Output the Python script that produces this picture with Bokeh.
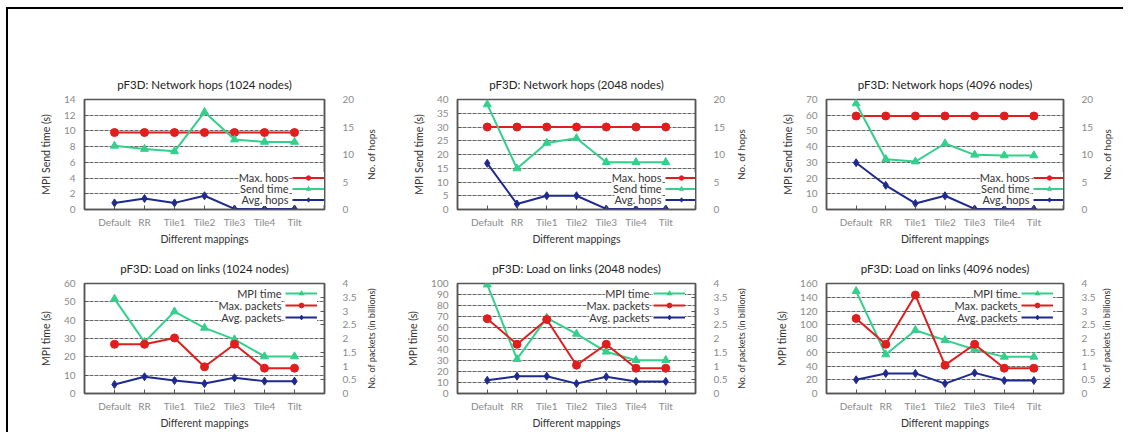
import math
from bokeh.plotting import figure
from bokeh.models import (Range1d, LinearAxis, SingleIntervalTicker, FixedTicker,
                          CustomJSTickFormatter, Legend, LegendItem, Label)
from bokeh.layouts import gridplot
from bokeh.embed import file_html
from bokeh.resources import INLINE
from bokeh.core.properties import value

# ---------------- data ----------------
mappings = ["Default", "RR", "Tile1", "Tile2", "Tile3", "Tile4", "Tilt"]

# Network hops
hops_max_1024 = [14, 14, 14, 14, 14, 14, 14]
send_time_1024 = [8.1, 7.7, 7.4, 12.4, 8.9, 8.6, 8.6]
hops_avg_1024 = [1.2, 2.0, 1.2, 2.5, 0.1, 0.1, 0.1]

hops_max_2048 = [15, 15, 15, 15, 15, 15, 15]
send_time_2048 = [38.2, 14.9, 24.2, 25.9, 17.2, 17.2, 17.2]
hops_avg_2048 = [8.4, 1.0, 2.5, 2.5, 0.1, 0.1, 0.1]

hops_max_4096 = [17, 17, 17, 17, 17, 17, 17]
send_time_4096 = [67.5, 32.0, 30.5, 42.0, 34.8, 34.4, 34.4]
hops_avg_4096 = [8.5, 4.4, 1.1, 2.5, 0.1, 0.1, 0.1]

# Load on links
mpi_time_1024 = [51.6, 28.0, 44.7, 35.8, 29.5, 20.2, 20.2]
pk_max_1024 = [1.79, 1.79, 2.02, 0.97, 1.79, 0.92, 0.92]
pk_avg_1024 = [0.33, 0.61, 0.47, 0.36, 0.57, 0.45, 0.45]

mpi_time_2048 = [99.0, 31.2, 68.8, 54.2, 37.9, 30.3, 30.3]
pk_max_2048 = [2.72, 1.79, 2.69, 1.03, 1.79, 0.92, 0.92]
pk_avg_2048 = [0.48, 0.63, 0.63, 0.36, 0.61, 0.44, 0.44]

mpi_time_4096 = [148.8, 56.7, 92.1, 77.6, 64.0, 53.3, 53.3]
pk_max_4096 = [2.73, 1.79, 3.58, 1.03, 1.79, 0.92, 0.92]
pk_avg_4096 = [0.50, 0.73, 0.73, 0.36, 0.75, 0.47, 0.47]

# ---------------- style ----------------
RED = "#e11d1d"
GREEN = "#33d08c"
BLUE = "#1f2a90"
FONT = "Lato"
AXC = "#555555"


def style_axis(ax, lab_standoff, axl_standoff):
    ax.axis_line_color = AXC
    ax.axis_line_width = 1.5
    ax.major_tick_in = 4
    ax.major_tick_out = 0
    ax.major_tick_line_color = AXC
    ax.minor_tick_line_color = None
    ax.major_label_text_font = FONT
    ax.major_label_text_font_size = "10px"
    ax.major_label_text_color = "#8a8a8a"
    ax.major_label_standoff = lab_standoff
    ax.axis_label_text_font = FONT
    ax.axis_label_text_font_size = "10.5px"
    ax.axis_label_text_font_style = "normal"
    ax.axis_label_text_color = "#333333"
    ax.axis_label_standoff = axl_standoff


def make_fig(title, left_max, left_step, left_label, right_max, right_step, right_label,
             series, legend_top, width, height, bl, br, bt, bb, legend_gap, row_h,
             rlab_size, rlab_off):
    frame_w = width - bl - br
    frame_h = height - bt - bb
    p = figure(width=width, height=height, x_range=Range1d(-1, 7), y_range=Range1d(0, left_max),
               output_backend="svg", toolbar_location=None, tools="",
               min_border_left=bl, min_border_right=br, min_border_top=bt, min_border_bottom=bb)
    p.extra_y_ranges = {"right": Range1d(0, right_max)}
    p.background_fill_color = "white"
    p.border_fill_color = "white"
    p.outline_line_color = AXC
    p.outline_line_width = 1.5

    p.title.text = title
    p.title.align = "center"
    p.title.text_font = FONT
    p.title.text_font_size = "11.5px"
    p.title.text_font_style = "normal"
    p.title.text_color = "#222222"
    p.title.standoff = 17

    lticker = SingleIntervalTicker(interval=left_step)
    yax = p.left[0]
    yax.ticker = lticker
    yax.axis_label = left_label
    style_axis(yax, 5, 9)
    p.ygrid.ticker = lticker
    p.ygrid.grid_line_color = "#666666"
    p.ygrid.grid_line_dash = "4 1"
    p.ygrid.grid_line_width = 1
    p.xgrid.visible = False

    xax = p.below[0]
    xax.ticker = FixedTicker(ticks=list(range(len(mappings))))
    xax.formatter = CustomJSTickFormatter(args=dict(labels=mappings),
                                          code="return labels[Math.round(tick)] || '';")
    xax.axis_label = "Different mappings"
    style_axis(xax, 6, 2)

    rax = LinearAxis(y_range_name="right", ticker=SingleIntervalTicker(interval=right_step),
                     formatter=CustomJSTickFormatter(code="return String(Math.round(tick*10)/10);"))
    style_axis(rax, 14, 9)
    p.add_layout(rax, "right")
    # right axis title, reading bottom-to-top like the left one
    p.add_layout(Label(x=rlab_off, y=frame_h / 2, x_units="screen", y_units="screen",
                       text=right_label, angle=math.pi / 2, text_align="center",
                       text_baseline="middle", text_font=FONT, text_font_size=rlab_size,
                       text_color="#333333"), "right")

    xs = list(range(len(mappings)))
    items = []
    for (label, vals, color, marker, size, rng) in series:
        kw = {} if rng == "left" else {"y_range_name": "right"}
        l = p.line(xs, vals, line_color=color, line_width=2, **kw)
        s = p.scatter(xs, vals, marker=marker, size=size, fill_color=color, line_color=color, **kw)
        items.append((label, LegendItem(label=value(" "), renderers=[l, s])))

    n = len(items)
    leg_h = n * row_h
    lx = frame_w - legend_gap - 32
    ly = (frame_h - 4 - leg_h) if legend_top else 4.5
    leg = Legend(items=[it for _, it in items], location=(lx, ly), orientation="vertical",
                 glyph_width=32, glyph_height=row_h, label_width=0, label_height=0,
                 label_standoff=0, label_text_font_size="1px", spacing=0, padding=0, margin=0,
                 background_fill_color="white", background_fill_alpha=1.0, border_line_alpha=0)
    p.add_layout(leg)
    for i, (label, _) in enumerate(items):
        yc = ly + leg_h - (i + 0.5) * row_h
        p.add_layout(Label(x=lx - 4, y=yc, x_units="screen", y_units="screen", text=label,
                           text_align="right", text_baseline="middle", text_font=FONT,
                           text_font_size="11px", text_color="#333333",
                           background_fill_color="white"))
    return p


def hop_series(mx, st, av):
    return [("Max. hops", mx, RED, "circle", 8, "right"),
            ("Send time", st, GREEN, "triangle", 8, "left"),
            ("Avg. hops", av, BLUE, "diamond", 8, "right")]


def load_series(mt, mx, av):
    return [("MPI time", mt, GREEN, "triangle", 8, "left"),
            ("Max. packets", mx, RED, "circle", 8, "right"),
            ("Avg. packets", av, BLUE, "diamond", 8, "right")]


p1 = make_fig("pF3D: Network hops (1024 nodes)", 14, 2, "MPI Send time (s)", 20, 5, "No. of hops",
              hop_series(hops_max_1024, send_time_1024, hops_avg_1024), False,
              372, 241, 75, 52, 90, 41, 5, 11, "10px", 13)
p2 = make_fig("pF3D: Network hops (2048 nodes)", 40, 5, "MPI Send time (s)", 20, 5, "No. of hops",
              hop_series(hops_max_2048, send_time_2048, hops_avg_2048), False,
              370, 241, 72, 47, 90, 41, 11, 11, "10px", 12)
p3 = make_fig("pF3D: Network hops (4096 nodes)", 70, 10, "MPI Send time (s)", 20, 5, "No. of hops",
              hop_series(hops_max_4096, send_time_4096, hops_avg_4096), False,
              373, 241, 69, 54, 90, 41, 11, 11, "10px", 10)
p4 = make_fig("pF3D: Load on links (1024 nodes)", 60, 10, "MPI time (s)", 4, 0.5,
              "No. of packets (in billions)",
              load_series(mpi_time_1024, pk_max_1024, pk_avg_1024), True,
              372, 182, 76, 56, 33, 39, 7, 12, "9px", 12)
p5 = make_fig("pF3D: Load on links (2048 nodes)", 100, 10, "MPI time (s)", 4, 0.5,
              "No. of packets (in billions)",
              load_series(mpi_time_2048, pk_max_2048, pk_avg_2048), True,
              370, 182, 77, 55, 33, 39, 10, 12, "9px", 11)
p6 = make_fig("pF3D: Load on links (4096 nodes)", 160, 20, "MPI time (s)", 4, 0.5,
              "No. of packets (in billions)",
              load_series(mpi_time_4096, pk_max_4096, pk_avg_4096), True,
              373, 182, 76, 60, 33, 39, 10, 12, "9px", 8)

grid = gridplot([[p1, p2, p3], [p4, p5, p6]], toolbar_location=None)
grid.styles = {"margin-top": "7px", "margin-left": "6px",
               "border-top": "2px solid #000", "border-left": "2px solid #000"}

open("out.html", "w").write(file_html(grid, INLINE))
